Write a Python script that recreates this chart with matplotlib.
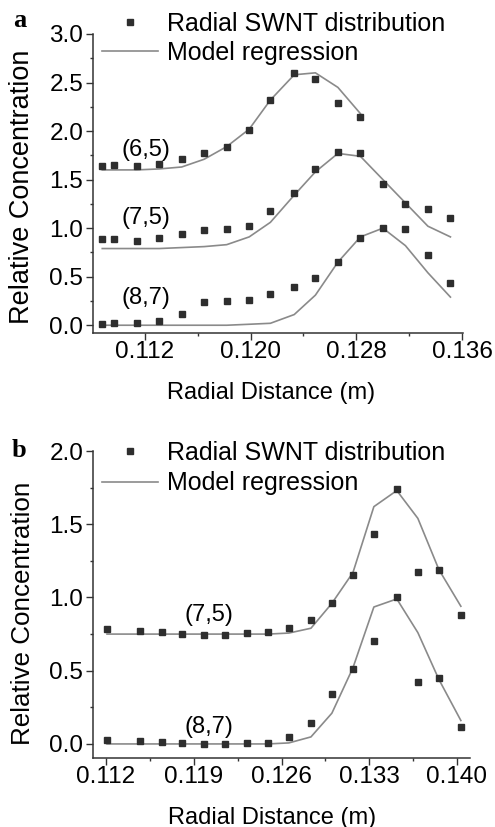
import matplotlib
matplotlib.use('Agg')
import matplotlib.pyplot as plt
from matplotlib.ticker import MultipleLocator, FormatStrFormatter

plt.rcParams['font.family'] = ['Liberation Sans', 'DejaVu Sans']

# Panel a data
x_a = [0.1088, 0.1097, 0.1114, 0.1131, 0.1148, 0.1165, 0.1182, 0.1199, 0.1215,
       0.1233, 0.1249, 0.1266, 0.1283, 0.1300, 0.1317, 0.1334, 0.1351]
pts65_a = [1.64, 1.65, 1.64, 1.66, 1.71, 1.77, 1.84, 2.01, 2.32, 2.60, 2.54, 2.29, 2.15]
fit65_a = [1.60, 1.60, 1.60, 1.61, 1.63, 1.71, 1.84, 2.02, 2.32, 2.58, 2.60, 2.45, 2.18]
pts75_a = [0.89, 0.89, 0.87, 0.90, 0.94, 0.98, 0.99, 1.02, 1.18, 1.36, 1.61, 1.78,
           1.77, 1.46, 1.25, 1.20, 1.10]
fit75_a = [0.79, 0.79, 0.79, 0.79, 0.80, 0.81, 0.83, 0.91, 1.06, 1.34, 1.58, 1.77,
           1.74, 1.50, 1.26, 1.02, 0.91]
pts87_a = [0.01, 0.02, 0.02, 0.04, 0.12, 0.24, 0.25, 0.26, 0.32, 0.39, 0.49, 0.65,
           0.90, 1.00, 0.99, 0.72, 0.43]
fit87_a = [0.0, 0.0, 0.0, 0.0, 0.0, 0.0, 0.0, 0.01, 0.02, 0.11, 0.31, 0.65,
           0.91, 1.00, 0.82, 0.54, 0.29]

# Panel b data
x_b = [0.11208, 0.11471, 0.11647, 0.11806, 0.11981, 0.12149, 0.12324, 0.12492, 0.12659,
       0.12835, 0.13002, 0.13170, 0.13337, 0.13520, 0.13688, 0.13856, 0.14031]
pts75_b = [0.785, 0.771, 0.765, 0.751, 0.744, 0.744, 0.758, 0.765, 0.79, 0.846,
           0.962, 1.154, 1.433, 1.74, 1.174, 1.188, 0.88]
fit75_b = [0.75, 0.75, 0.75, 0.75, 0.75, 0.75, 0.75, 0.75, 0.757, 0.79,
           0.96, 1.17, 1.62, 1.73, 1.54, 1.19, 0.94]
pts87_b = [0.027, 0.02, 0.014, 0.007, 0.0, 0.0, 0.007, 0.007, 0.048, 0.143,
           0.34, 0.51, 0.70, 1.0, 0.42, 0.45, 0.116]
fit87_b = [0.0, 0.0, 0.0, 0.0, 0.0, 0.0, 0.0, 0.0, 0.007, 0.048,
           0.21, 0.52, 0.935, 0.99, 0.76, 0.44, 0.16]

pt_color = '#2e2e2e'
line_color = '#8a8a8a'
W, H = 495, 827

fig = plt.figure(figsize=(W / 100, H / 100), dpi=100)
ax_a = fig.add_axes([93 / W, 1 - 333 / H, 370 / W, 299 / H])
ax_b = fig.add_axes([93 / W, 1 - 758 / H, 377 / W, 307 / H])


def style(ax):
    for s in ['top', 'right']:
        ax.spines[s].set_visible(False)
    for s in ['left', 'bottom']:
        ax.spines[s].set_linewidth(1.1)
        ax.spines[s].set_color('#333333')
    ax.tick_params(which='major', direction='out', length=5, width=1.0,
                   labelsize=17.5, color='#333333', pad=2)
    ax.tick_params(which='minor', direction='out', length=2.5, width=1.0,
                   color='#333333')
    ax.tick_params(axis='x', pad=1)
    ax.yaxis.set_major_locator(MultipleLocator(0.5))
    ax.yaxis.set_minor_locator(MultipleLocator(0.25))
    ax.yaxis.set_major_formatter(FormatStrFormatter('%.1f'))
    ax.xaxis.set_major_formatter(FormatStrFormatter('%.3f'))


def draw(ax, x, pts, fit, first):
    ax.plot(x[:len(pts)], pts, 's', ms=4.8, color=pt_color, mec=pt_color,
            label='Radial SWNT distribution' if first else None, zorder=3)
    ax.plot(x[:len(fit)], fit, '-', lw=1.2, color=line_color,
            label='Model regression' if first else None, zorder=2)


# panel a
draw(ax_a, x_a, pts65_a, fit65_a, True)
draw(ax_a, x_a, pts75_a, fit75_a, False)
draw(ax_a, x_a, pts87_a, fit87_a, False)
style(ax_a)
ax_a.set_xlim(0.1081, 0.13605)
ax_a.set_ylim(-0.08, 3.0)
ax_a.xaxis.set_major_locator(MultipleLocator(0.008))
ax_a.xaxis.set_minor_locator(MultipleLocator(0.004))
ax_a.text(0.1121, 1.81, '(6,5)', fontsize=17, ha='center', va='center')
ax_a.text(0.1121, 1.10, '(7,5)', fontsize=17, ha='center', va='center')
ax_a.text(0.1121, 0.28, '(8,7)', fontsize=17, ha='center', va='center')
ax_a.set_xlabel('Radial Distance (m)', fontsize=17, va='top')
ax_a.xaxis.set_label_coords(0.48, -0.165)
ax_a.set_ylabel('Relative Concentration', fontsize=19.5)
ax_a.yaxis.set_label_coords(-0.157, 0.49)
ax_a.legend(loc='upper left', bbox_to_anchor=(102 / W, 1 - 12 / H),
            bbox_transform=fig.transFigure, frameon=False, fontsize=18,
            handlelength=2.25, handletextpad=0.35, labelspacing=0.2,
            borderpad=0, borderaxespad=0, numpoints=1)

# panel b
draw(ax_b, x_b, pts75_b, fit75_b, True)
draw(ax_b, x_b, pts87_b, fit87_b, False)
style(ax_b)
ax_b.set_xlim(0.11096, 0.14104)
ax_b.set_ylim(-0.096, 2.0)
ax_b.xaxis.set_major_locator(MultipleLocator(0.007))
ax_b.xaxis.set_minor_locator(MultipleLocator(0.0035))
ax_b.text(0.1202, 0.88, '(7,5)', fontsize=17, ha='center', va='center')
ax_b.text(0.1202, 0.116, '(8,7)', fontsize=17, ha='center', va='center')
ax_b.set_xlabel('Radial Distance (m)', fontsize=17, va='top')
ax_b.xaxis.set_label_coords(0.475, -0.158)
ax_b.set_ylabel('Relative Concentration', fontsize=18.7)
ax_b.yaxis.set_label_coords(-0.154, 0.47)
ax_b.legend(loc='upper left', bbox_to_anchor=(102 / W, 1 - 441 / H),
            bbox_transform=fig.transFigure, frameon=False, fontsize=18,
            handlelength=2.25, handletextpad=0.35, labelspacing=0.25,
            borderpad=0, borderaxespad=0, numpoints=1)

fig.text(13 / W, 1 - 27 / H, 'a', fontsize=19, fontweight='bold',
         family='Liberation Serif', va='baseline')
fig.text(12 / W, 1 - 457 / H, 'b', fontsize=19, fontweight='bold',
         family='Liberation Serif', va='baseline')

fig.savefig('out.png', dpi=100)
